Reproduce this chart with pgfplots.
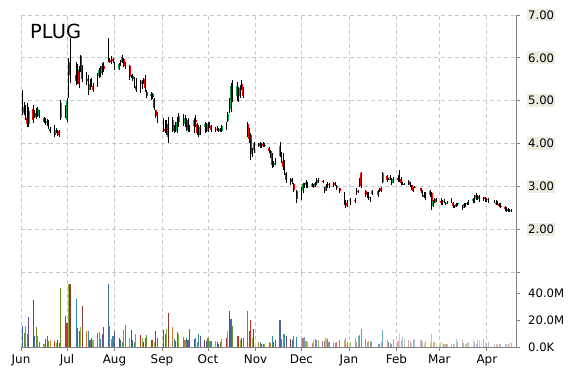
\documentclass[border=0pt]{standalone}
\usepackage{fontspec}
\setmainfont{DejaVu Sans}
\usepackage{pgfplots}
\pgfplotsset{compat=1.18}
\usepackage{pgfplotstable}
\definecolor{gridc}{RGB}{200,200,200}
\definecolor{axc}{RGB}{128,128,128}
\definecolor{lblbg}{RGB}{238,235,224}
\pgfplotstableread{
d o h l c v
1 5.20 5.25 4.67 4.72 15.5
2 4.72 4.97 4.67 4.85 10.6
3 4.85 4.90 4.55 4.60 15.5
4 4.60 4.95 4.39 4.45 10
5 4.45 4.86 4.39 4.75 22.5
8 4.80 4.90 4.48 4.55 34.8
9 4.62 4.79 4.60 4.70 8
10 4.72 4.82 4.58 4.62 15
11 4.65 4.86 4.62 4.80 8
12 4.76 4.79 4.60 4.64 4
15 4.60 4.62 4.48 4.50 2.5
16 4.55 4.60 4.44 4.48 6
17 4.48 4.58 4.40 4.52 8
18 4.50 4.55 4.35 4.40 4.5
19 4.35 4.39 4.25 4.30 5.5
22 4.30 4.44 4.16 4.20 4.5
23 4.25 4.37 4.25 4.32 3
24 4.30 4.32 4.18 4.22 5.5
25 4.28 4.32 4.16 4.20 3
26 4.60 5.02 4.55 4.95 43.7
29 4.85 4.90 4.60 4.65 23
30 4.55 5.07 4.51 5.00 17.5
31 5.10 6.00 5.07 5.90 47
32 5.90 6.46 5.42 5.60 47
36 5.60 5.90 5.37 5.45 35.8
37 5.45 5.85 5.40 5.75 14
38 5.70 5.80 5.30 5.40 11.5
39 6.05 6.07 5.67 5.72 15
40 5.72 5.83 5.44 5.50 30.6
43 5.50 5.67 5.37 5.45 11.5
44 5.45 5.60 5.14 5.20 12
45 5.25 5.50 5.25 5.40 5
46 5.40 5.53 5.32 5.35 7
47 5.35 5.42 5.21 5.25 5.5
50 5.35 5.65 5.32 5.60 10.6
51 5.58 5.77 5.53 5.72 11
52 5.70 5.80 5.55 5.65 6
53 5.65 5.88 5.60 5.80 10
54 5.80 5.90 5.67 5.75 15
57 6.30 6.46 5.90 5.95 47
58 5.95 6.00 5.88 5.90 15.5
59 5.90 6.05 5.85 6.00 6
60 5.98 6.00 5.88 5.92 8
61 5.88 5.90 5.72 5.75 11.5
64 5.75 5.88 5.72 5.85 7
65 5.85 5.95 5.80 5.90 5
66 5.90 6.07 5.88 6.02 4
67 5.98 6.00 5.79 5.85 12.5
68 5.85 5.90 5.75 5.80 16
71 5.80 5.83 5.48 5.55 6.5
72 5.55 5.60 5.53 5.58 12.5
73 5.58 5.62 5.45 5.50 5.5
74 5.50 5.55 5.30 5.35 4
75 5.35 5.53 5.21 5.25 10
78 5.25 5.48 5.18 5.40 9
79 5.40 5.49 5.28 5.45 6.5
80 5.45 5.53 5.40 5.50 4
81 5.50 5.60 5.21 5.30 7
82 5.20 5.25 5.07 5.10 9
85 5.10 5.20 5.02 5.15 5.5
86 5.15 5.18 5.05 5.08 5.5
87 5.05 5.07 4.79 4.82 4
88 4.78 4.79 4.60 4.65 11.5
89 4.65 4.74 4.48 4.52 7
93 4.55 4.60 4.27 4.35 12.5
94 4.35 4.55 4.25 4.30 10
95 4.30 4.55 4.20 4.45 13.5
96 4.45 4.62 4.02 4.15 25
99 4.30 4.62 4.27 4.55 15
100 4.40 4.44 4.25 4.30 6
101 4.30 4.50 4.28 4.45 4.5
102 4.45 4.62 4.25 4.50 10.8
103 4.50 4.72 4.39 4.65 10
106 4.65 4.70 4.42 4.45 7.5
107 4.45 4.67 4.39 4.60 5.5
108 4.55 4.60 4.30 4.35 7
109 4.55 4.60 4.27 4.32 5
110 4.35 4.44 4.27 4.40 13.5
113 4.40 4.60 4.25 4.55 6
114 4.55 4.67 4.39 4.50 7
115 4.45 4.48 4.20 4.25 4
116 4.30 4.44 4.16 4.20 10
117 4.22 4.44 4.20 4.38 8
120 4.38 4.51 4.25 4.45 5.5
121 4.45 4.48 4.27 4.32 4.5
122 4.30 4.51 4.27 4.45 7
123 4.45 4.51 4.37 4.40 4.5
124 4.40 4.44 4.27 4.32 4.5
127 4.32 4.39 4.27 4.35 4.5
128 4.35 4.40 4.30 4.32 4
129 4.32 4.37 4.27 4.30 2.5
130 4.30 4.37 4.27 4.33 4
131 4.30 4.44 4.27 4.40 6
134 4.38 4.51 4.32 4.48 7
135 4.52 4.74 4.51 4.70 12
136 4.75 5.07 4.72 5.00 27
137 4.80 5.42 4.74 5.35 21
138 5.40 5.48 4.97 5.05 15.5
141 5.10 5.44 5.00 5.35 8.5
142 5.30 5.32 4.97 5.05 8.5
143 5.10 5.37 5.07 5.30 5
144 5.40 5.48 5.25 5.30 6.5
145 5.30 5.32 5.07 5.10 6.5
148 4.45 4.51 4.16 4.25 27
149 4.35 4.37 4.02 4.10 12
150 4.20 4.25 3.62 3.75 20
151 3.75 3.90 3.69 3.85 7
152 3.85 4.04 3.78 4.00 13
155 3.95 4.02 3.92 4.00 3.5
156 4.00 4.04 3.90 3.95 3.5
157 3.95 4.02 3.90 3.98 2.5
158 3.98 4.04 3.92 3.95 2.5
159 3.95 4.02 3.92 3.97 2.5
162 3.90 3.92 3.78 3.82 4
163 3.82 3.85 3.65 3.70 3
164 3.70 3.78 3.43 3.50 8.5
165 3.50 3.60 3.46 3.55 4
166 3.55 3.67 3.50 3.60 5
169 3.70 4.04 3.69 3.95 20
170 3.78 3.81 3.55 3.60 6
171 3.60 3.78 3.39 3.45 10
172 3.55 3.62 3.27 3.32 9.5
173 3.30 3.34 3.08 3.15 8
176 3.18 3.20 3.04 3.10 6.2
177 3.10 3.20 3.05 3.12 4.9
178 3.05 3.08 2.87 2.92 7.9
180 2.90 2.92 2.62 2.70 7.4
183 2.72 2.99 2.69 2.92 7.4
184 2.90 3.08 2.85 3.05 6.9
185 3.05 3.08 2.97 3.02 7.4
186 3.02 3.15 2.97 3.10 4.2
187 3.10 3.11 2.95 3.00 3.7
190 3.00 3.08 2.99 3.05 3
191 3.05 3.05 2.97 2.99 4.9
192 3.00 3.11 2.99 3.08 6.2
193 3.08 3.20 3.04 3.15 5.4
194 3.15 3.20 3.08 3.10 4.9
197 3.12 3.15 3.08 3.10 4.4
198 2.98 2.99 2.85 2.88 4.4
199 2.90 3.05 2.90 3.00 6.9
200 3.00 3.11 2.97 3.08 6.2
201 3.05 3.08 2.97 3.02 3.7
204 3.00 3.11 2.99 3.08 3.7
205 3.08 3.11 3.00 3.02 3
206 3.00 3.04 2.92 2.95 3.7
208 2.95 2.97 2.85 2.88 4.9
211 2.85 2.87 2.57 2.62 5.4
212 2.62 2.69 2.50 2.55 6.9
213 2.55 2.69 2.52 2.62 3.7
215 2.60 2.73 2.57 2.68 3.7
218 2.68 2.73 2.62 2.65 6.9
219 2.82 2.97 2.80 2.95 3.7
220 2.90 2.92 2.85 2.88 7.9
221 3.00 3.20 2.99 3.15 8.6
222 3.30 3.34 2.95 3.00 13
225 2.90 2.92 2.76 2.80 6.2
226 2.80 2.87 2.73 2.76 3.7
227 2.75 2.87 2.69 2.72 4.2
228 2.70 2.76 2.64 2.68 4.2
229 2.82 2.92 2.80 2.90 3.7
233 2.80 2.92 2.76 2.90 2.5
234 2.88 2.97 2.87 2.95 2.5
235 2.95 2.99 2.87 2.90 3.7
236 3.10 3.34 3.08 3.30 12.6
239 3.25 3.27 3.11 3.15 6.2
240 3.18 3.20 3.15 3.16 3.7
241 3.20 3.27 3.15 3.22 3
242 3.08 3.20 3.04 3.18 2.5
243 3.10 3.22 3.08 3.20 6.2
246 3.20 3.27 3.11 3.15 4.4
247 3.30 3.39 3.11 3.15 10.6
248 3.18 3.22 3.04 3.08 4.4
249 3.08 3.11 3.04 3.06 7.4
250 3.06 3.08 3.04 3.05 6.2
253 3.05 3.15 3.04 3.12 4.9
254 3.10 3.11 2.99 3.02 4.4
255 3.02 3.04 2.92 2.95 3
256 2.95 2.99 2.87 2.90 4.9
257 2.96 3.00 2.95 2.98 6.2
261 2.95 2.97 2.85 2.88 4.9
262 2.90 2.92 2.76 2.80 3.7
263 2.80 2.87 2.73 2.76 3
264 2.75 2.87 2.69 2.72 4.2
267 2.80 2.92 2.76 2.88 3.7
268 2.85 2.87 2.45 2.55 9.6
269 2.55 2.69 2.52 2.65 3.7
270 2.62 2.73 2.60 2.70 3.7
271 2.70 2.73 2.64 2.66 3
274 2.65 2.73 2.57 2.60 3.7
275 2.60 2.69 2.57 2.66 3
276 2.66 2.70 2.62 2.64 2.5
277 2.60 2.64 2.57 2.62 2.5
278 2.60 2.66 2.58 2.62 2
281 2.70 2.73 2.62 2.64 2.5
282 2.62 2.64 2.50 2.55 2
283 2.55 2.57 2.50 2.52 2
284 2.52 2.60 2.52 2.58 6.2
285 2.58 2.62 2.55 2.60 3.7
288 2.55 2.57 2.45 2.50 4.9
289 2.50 2.60 2.50 2.58 3
290 2.58 2.62 2.52 2.55 2.5
291 2.58 2.64 2.57 2.62 3
292 2.60 2.69 2.57 2.66 3.7
295 2.65 2.72 2.60 2.70 6.2
296 2.75 2.80 2.62 2.66 3.7
297 2.72 2.85 2.69 2.80 2.5
298 2.78 2.80 2.69 2.72 4.9
299 2.70 2.80 2.64 2.75 5.4
302 2.74 2.76 2.66 2.70 6.2
303 2.70 2.76 2.64 2.68 3.7
304 2.68 2.73 2.64 2.70 2.5
305 2.70 2.73 2.62 2.65 3.7
309 2.65 2.69 2.60 2.62 2.5
310 2.62 2.69 2.57 2.60 2
311 2.60 2.66 2.57 2.58 2
312 2.58 2.62 2.52 2.55 2
313 2.55 2.60 2.50 2.52 2
316 2.52 2.55 2.43 2.46 2.5
317 2.46 2.52 2.41 2.45 2.5
318 2.45 2.50 2.40 2.42 2.5
319 2.42 2.48 2.40 2.44 3.7
320 2.44 2.47 2.41 2.43 3
}\data

\pgfplotsset{
  common/.style={
    scale only axis, width=495bp, xmin=0, xmax=323,
    xtick={0,30,61,92,122,153,183,214,245,273,304},
    axis x line*=bottom, axis y line*=right,
    xtick pos=bottom, xticklabel pos=bottom,
    ytick pos=right, yticklabel pos=right,
    tick align=outside, major tick length=4bp,
    tick style={draw=axc, line width=0.8bp},
    major grid style={draw=gridc, dash pattern=on 4bp off 3bp, line width=0.8bp},
    xmajorgrids,
    every tick label/.append style={text=black},
  }
}

\begin{document}
\begin{tikzpicture}
\useasboundingbox (0,0) rectangle (570bp,370bp);
% price panel
\begin{axis}[common,
  at={(21bp,98bp)}, anchor=south west, height=257bp,
  ymin=1, ymax=7,
  x axis line style={draw=none},
  y axis line style={draw=axc, line width=0.8bp, -},
  xticklabels={}, x tick style={draw=none},
  ytick={2,3,4,5,6,7}, yticklabels={2.00,3.00,4.00,5.00,6.00,7.00},
  ymajorgrids,
  extra y ticks={1}, extra y tick labels={},
  extra y tick style={ymajorgrids, yticklabel style={fill=none}},
  yticklabel style={font=\fontsize{11.7}{14}\selectfont, fill=lblbg, inner xsep=1bp, inner ysep=2bp, xshift=7bp},
  colormap={candle}{rgb255=(255,0,0) rgb255=(0,176,80)},
  point meta min=0, point meta max=1,
]
\addplot[line width=1.7bp, point meta={\thisrow{c}>\thisrow{o}},
  quiver={u=0, v=\thisrow{c}-\thisrow{o}, colored=mapped color}] table[x=d, y=o] {\data};
\addplot[black, line width=0.8bp, quiver={u=0, v=\thisrow{h}-\thisrow{l}}] table[x=d, y=l] {\data};
\end{axis}
% volume panel
\begin{axis}[common,
  at={(21bp,23bp)}, anchor=south west, height=75bp,
  ymin=0, ymax=55.56,
  axis line style={draw=axc, line width=0.8bp, -},
  xticklabels={Jun,Jul,Aug,Sep,Oct,Nov,Dec,Jan,Feb,Mar,Apr},
  xticklabel style={font=\fontsize{12}{14}\selectfont},
  ytick={0,20,40}, yticklabels={0.0K,20.0M,40.0M},
  yticklabel style={font=\fontsize{11.7}{14}\selectfont, inner xsep=1bp, xshift=7bp},
  colormap={vol}{
    rgb255=(140,59,59) rgb255=(61,106,168) rgb255=(107,142,35) rgb255=(210,120,44)
    rgb255=(46,143,163) rgb255=(108,79,143) rgb255=(192,57,43) rgb255=(139,179,58)
    rgb255=(174,118,118) rgb255=(119,151,194) rgb255=(151,176,101) rgb255=(224,161,107)
    rgb255=(109,177,191) rgb255=(152,132,177) rgb255=(211,116,107) rgb255=(174,202,117)
    rgb255=(203,167,167) rgb255=(167,188,216) rgb255=(188,204,156) rgb255=(235,194,160)
    rgb255=(161,204,213) rgb255=(189,176,204) rgb255=(226,166,159) rgb255=(203,221,166)},
  point meta min=0, point meta max=23,
]
\addplot[line width=1.1bp,
  point meta={mod(\thisrow{d},8)+8*(\thisrow{d}>182)+8*(\thisrow{d}>244)},
  quiver={u=0, v=\thisrow{v}, colored=mapped color}] table[x=d, y expr=0] {\data};
\end{axis}
\node[anchor=base west, font=\fontsize{19.5}{22}\selectfont, inner sep=0pt] at (30bp,331bp) {PLUG};
\end{tikzpicture}
\end{document}
